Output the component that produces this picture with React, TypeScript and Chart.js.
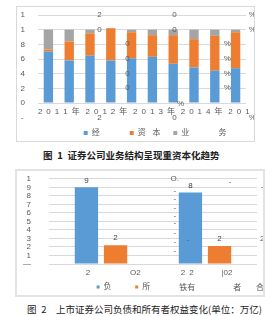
import React, { useEffect, useRef } from "react";
import { Chart, registerables } from "chart.js";

Chart.register(...registerables);

// ---------- Figure 1 data ----------
const periods1 = ["2011H1", "2011H2", "2012H1", "2012H2", "2013H1", "2013H2", "2014H1", "2014H2", "2015H1", "2015H2"];
const yearLabels1 = [
  "2\u20020\u20021\u20021\u2002年",
  "\u2003\u20022\u20020\u20021\u20022\u2002年",
  "\u2003\u2003\u20032\u20020\u20021\u20023\u2002年",
  "\u2003\u2003\u2003\u2003\u20022\u20020\u20021\u20024\u2002年",
  "\u2003\u2003\u2003\u2003\u20022\u20020\u20021\u20025",
];
const blueShare = [70, 58, 64.5, 58, 61, 63, 53.5, 48.5, 44, 47.5];
const orangeShare = [3, 26, 30.5, 44, 35.5, 29.5, 39, 38.5, 47.5, 49];
const grayShare = [27, 16, 5, 0, 3.5, 7.5, 7.5, 13, 8.5, 3.5];
const legend1 = ["经\u2003\u2003\u2003", "资\u2003\u2003\u2002\u2009", "业\u2002"];
const yTicks1 = ["0", "2", "4", "6", "8", "1", "1"];

// ---------- Figure 2 data ----------
const groups2 = ["2015", "2016"];
const liabilities = [9.0, 8.4];
const equity = [2.2, 2.1];
const liabLabels = ["9", "8"];
const equityLabels = ["2", "2"];
const yTicks2 = ["—", "1", "2", "3", "4", "5", "6", "7", "8", "9", "1"];
const legend2 = ["负\u2003\u2002\u2009", "所\u2003\u2003\u2003\u2009\u2009"];

// ---------- garbled fragments from the original rendering ----------
const fragments1 = [
  { t: "2", x: 2.45, y: 120 }, { t: "0", x: 6.06, y: 120 }, { t: "%", x: 9.8, y: 120 },
  { t: "0", x: 2.45, y: 99.5 }, { t: "0", x: 6.06, y: 99.5 }, { t: "%", x: 9.8, y: 99.5 },
  { t: "0", x: 3.8, y: 80.5 }, { t: "%", x: 8.6, y: 80.5 },
  { t: "0", x: 3.8, y: 60 }, { t: "%", x: 8.6, y: 60 },
  { t: "0", x: 3.8, y: 39.5 }, { t: "%", x: 8.6, y: 39.5 },
  { t: "0", x: 3.8, y: 20.5 }, { t: "%", x: 8.6, y: 20.5 },
  { t: "%", x: 6.35, y: -1.4 },
  { t: "-", x: -1.25, y: -20.5 }, { t: "2", x: 2.45, y: -20.5 }, { t: "0", x: 6.06, y: -20.5 }, { t: "%", x: 9.8, y: -20.5 },
  { t: "本", x: 5.2, y: -41 }, { t: "务", x: 8.37, y: -41 },
];
const fragments2 = [
  { t: "O.", x: 0.71, y: 10 }, { t: "-", x: 1.24, y: 9.65 }, { t: "-", x: 1.55, y: 9.07 },
  { t: "-", x: 0.71, y: 8.6 }, { t: "-", x: 0.71, y: 7.7 }, { t: "-", x: 0.71, y: 6.6 }, { t: "-", x: 0.71, y: 5.7 },
  { t: "-", x: 0.71, y: 4.8 }, { t: "-", x: 0.71, y: 3.7 }, { t: "-", x: 0.71, y: 2.56 }, { t: "-", x: 0.71, y: 1.6 },
  { t: "-", x: 0.84, y: 2.8 }, { t: "2", x: 1.55, y: 2.9 },
  { t: "2", x: -0.125, y: -1.05 }, { t: "O2", x: 0.33, y: -1.05 }, { t: "2\u20022", x: 0.83, y: -1.05 },
  { t: "|02", x: 1.21, y: -1.05 }, { t: "16", x: 1.6, y: -1.05 },
  { t: "铁有", x: 0.83, y: -2.8 }, { t: "者", x: 1.31, y: -2.8 }, { t: "合", x: 1.53, y: -2.8 },
];

const FONT_FAMILY = "'Liberation Sans', 'Noto Sans CJK SC', sans-serif";
const TEXT_COLOR = "#595959";
const GRID_COLOR = "#d9d9d9";

type Frag = { t: string; x: number; y: number };

function fragmentPlugin(items: Frag[]) {
  return {
    id: "fragments",
    afterDatasetsDraw(chart: any) {
      const { ctx, scales } = chart;
      ctx.save();
      ctx.font = `8px ${FONT_FAMILY}`;
      ctx.fillStyle = TEXT_COLOR;
      ctx.textAlign = "center";
      ctx.textBaseline = "middle";
      for (const f of items) {
        ctx.fillText(f.t, scales.x.getPixelForValue(f.x), scales.y.getPixelForValue(f.y));
      }
      ctx.restore();
    },
  };
}

const barLabelPlugin = {
  id: "barLabels",
  afterDatasetsDraw(chart: any) {
    const { ctx } = chart;
    const sets = [liabLabels, equityLabels];
    ctx.save();
    ctx.font = `8px ${FONT_FAMILY}`;
    ctx.fillStyle = "#404040";
    ctx.textAlign = "center";
    ctx.textBaseline = "middle";
    chart.data.datasets.forEach((_: any, di: number) => {
      const meta = chart.getDatasetMeta(di);
      meta.data.forEach((el: any, i: number) => {
        ctx.fillText(sets[di][i], el.x, el.y - 7);
      });
    });
    ctx.restore();
  },
};

function Figure1() {
  const ref = useRef<HTMLCanvasElement>(null);
  useEffect(() => {
    const font = { family: FONT_FAMILY, size: 8 };
    const chart = new Chart(ref.current!, {
      type: "bar",
      data: {
        labels: periods1,
        datasets: [
          { label: legend1[0], data: blueShare, backgroundColor: "#5B9BD5" },
          { label: legend1[1], data: orangeShare, backgroundColor: "#ED7D31" },
          { label: legend1[2], data: grayShare, backgroundColor: "#A5A5A5" },
        ],
      },
      options: {
        animation: false,
        responsive: false,
        maintainAspectRatio: false,
        layout: { padding: { top: 8, right: 8, left: 0, bottom: 0 } },
        datasets: { bar: { barPercentage: 0.45, categoryPercentage: 1 } },
        scales: {
          x: {
            stacked: true,
            grid: { display: false, drawTicks: false },
            border: { display: false },
            ticks: {
              font,
              color: TEXT_COLOR,
              padding: 4,
              maxRotation: 0,
              minRotation: 0,
              autoSkip: false,
              labelOffset: 10.4,
              callback: (_v: any, i: number) => (i % 2 === 0 ? yearLabels1[i / 2] : ""),
            },
            afterFit: (s: any) => { s.height = 20; },
          },
          y: {
            stacked: true,
            min: 0,
            max: 120,
            ticks: { stepSize: 20, autoSkip: false, font, color: TEXT_COLOR, padding: 3, callback: (_v: any, i: number) => yTicks1[i] },
            grid: { color: GRID_COLOR, drawTicks: true, tickLength: 10, tickColor: "rgba(0,0,0,0)" },
            border: { display: false },
            afterFit: (s: any) => { s.width = 21; },
          },
        } as any,
        plugins: {
          legend: {
            position: "bottom",
            maxHeight: 18,
            labels: {
              font,
              color: TEXT_COLOR,
              boxWidth: 4,
              boxHeight: 4,
              padding: 6,
              generateLabels: (c: any) => [
                { text: "", fillStyle: "rgba(0,0,0,0)", strokeStyle: "rgba(0,0,0,0)", lineWidth: 0, hidden: false, datasetIndex: -1 },
                ...Chart.defaults.plugins.legend.labels.generateLabels(c),
              ],
            },
          },
          tooltip: { enabled: false },
        },
      },
      plugins: [fragmentPlugin(fragments1)],
    });
    return () => chart.destroy();
  }, []);
  return <canvas ref={ref} width={237} height={134} style={{ display: "block" }} />;
}

function Figure2() {
  const ref = useRef<HTMLCanvasElement>(null);
  useEffect(() => {
    const font = { family: FONT_FAMILY, size: 8 };
    const chart = new Chart(ref.current!, {
      type: "bar",
      data: {
        labels: groups2,
        datasets: [
          { label: legend2[0], data: liabilities, backgroundColor: "#5B9BD5" },
          { label: legend2[1], data: equity, backgroundColor: "#ED7D31" },
        ],
      },
      options: {
        animation: false,
        responsive: false,
        maintainAspectRatio: false,
        layout: { padding: { top: 7, right: 6, left: 0, bottom: 0 } },
        datasets: { bar: { barPercentage: 0.8, categoryPercentage: 0.56 } },
        scales: {
          x: {
            grid: { display: false, drawTicks: false },
            border: { display: false },
            ticks: { display: false },
            afterFit: (s: any) => { s.height = 9; },
          },
          y: {
            min: 0,
            max: 10,
            ticks: { stepSize: 1, autoSkip: false, font, color: TEXT_COLOR, padding: 3, callback: (_v: any, i: number) => yTicks2[i] },
            grid: { color: GRID_COLOR, drawTicks: true, tickLength: 15, tickColor: "rgba(0,0,0,0)" },
            border: { display: false },
            afterFit: (s: any) => { s.width = 32; },
          },
        } as any,
        plugins: {
          legend: {
            position: "bottom",
            maxHeight: 22,
            labels: { font, color: TEXT_COLOR, boxWidth: 3, boxHeight: 3, padding: 10 },
          },
          tooltip: { enabled: false },
        },
      },
      plugins: [barLabelPlugin, fragmentPlugin(fragments2)],
    });
    return () => chart.destroy();
  }, []);
  return <canvas ref={ref} width={246} height={124} style={{ display: "block" }} />;
}

export default function App() {
  const captionBase: React.CSSProperties = {
    position: "absolute",
    fontFamily: "'Noto Sans CJK SC', sans-serif",
    fontSize: "9.5px",
    lineHeight: "12px",
    color: "#222",
    whiteSpace: "pre",
    margin: 0,
  };
  return (
    <div style={{ position: "fixed", left: 0, top: 0, width: 275, height: 316, background: "#fff", overflow: "hidden" }}>
      <div style={{ position: "absolute", left: 16, top: 6, width: 237, height: 134, border: "1px solid #d9d9d9" }}>
        <Figure1 />
      </div>
      <div style={{ ...captionBase, left: 43, top: 149, fontWeight: 700 }}>
        {"图\u20021\u2002证券公司业务结构呈现重资本化趋势"}
      </div>
      <div style={{ position: "absolute", left: 15, top: 169, width: 246, height: 124, border: "2px solid #e3e3e3" }}>
        <Figure2 />
      </div>
      <div style={{ ...captionBase, left: 27, top: 303 }}>
        {"图\u20022\u2002\u2002上市证券公司负债和所有者权益变化(单位：万亿)"}
      </div>
    </div>
  );
}
